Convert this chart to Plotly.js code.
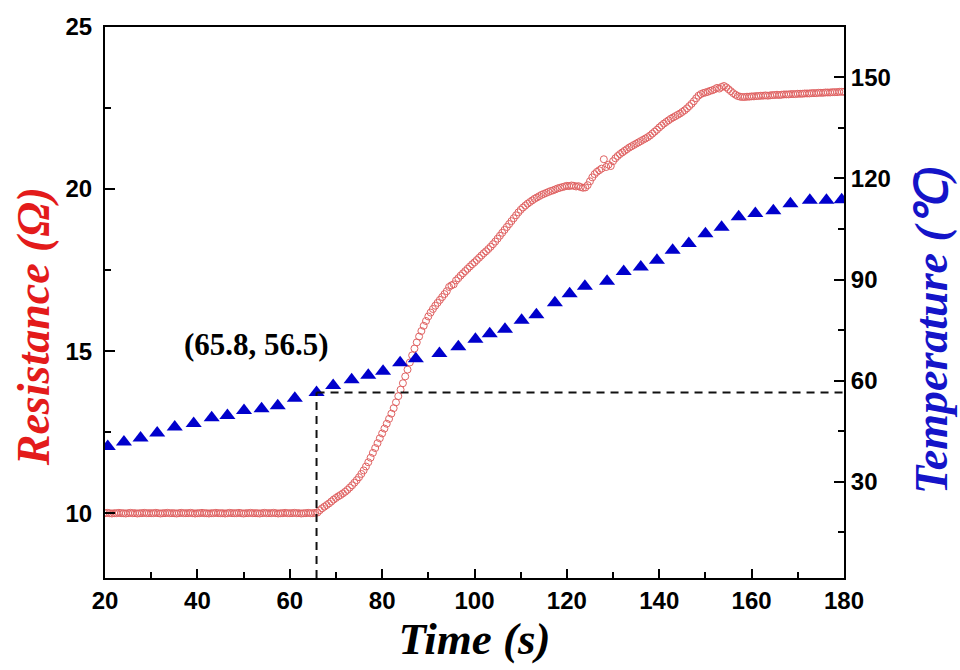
<!DOCTYPE html>
<html>
<head>
<meta charset="utf-8">
<script src="https://cdn.plot.ly/plotly-3.0.1.min.js"></script>
<style>html,body{margin:0;padding:0;background:#fff;}#chart{width:960px;height:670px;}</style>
</head>
<body>
<div id="chart"></div>
<script>
// ---- Data ----
// Resistance (Ohm), sampled every 0.5 s from t = 20 s to t = 180 s
const resStartTime = 20;
const resSampleStep = 0.5;
const resistance = [
  10.00,10.01,10.00,9.99,10.00,10.00,10.01,10.00,10.00,9.99,10.00,10.01,10.00,10.00,9.99,10.00,10.00,10.01,10.00,10.00,
  10.00,10.00,10.01,10.00,9.99,10.00,10.00,10.01,10.00,10.00,10.00,9.99,10.00,10.01,10.00,10.00,10.00,10.01,10.00,9.99,
  10.00,10.00,10.01,10.00,10.00,9.99,10.00,10.00,10.01,10.00,10.00,10.00,9.99,10.00,10.01,10.00,10.00,10.00,10.01,10.00,
  9.99,10.00,10.00,10.01,10.00,10.00,10.00,9.99,10.00,10.01,10.00,10.00,10.00,10.01,10.00,9.99,10.00,10.00,10.01,10.00,
  10.00,10.00,10.01,10.00,10.00,9.99,10.00,10.00,10.01,10.00,10.00,10.01,10.02,10.09,10.15,10.20,10.25,10.30,10.36,10.42,
  10.47,10.52,10.56,10.61,10.66,10.72,10.79,10.86,10.94,11.02,11.11,11.21,11.32,11.44,11.57,11.71,11.86,12.01,12.16,12.31,
  12.46,12.61,12.76,12.91,13.07,13.24,13.42,13.61,13.81,14.01,14.22,14.43,14.65,14.87,15.08,15.27,15.45,15.62,15.78,15.93,
  16.07,16.19,16.30,16.40,16.49,16.58,16.67,16.76,16.85,16.98,17.03,17.06,17.18,17.25,17.33,17.40,17.47,17.54,17.61,17.68,
  17.74,17.81,17.88,17.95,18.02,18.08,18.15,18.22,18.30,18.38,18.47,18.56,18.65,18.74,18.83,18.92,19.01,19.10,19.19,19.28,
  19.36,19.43,19.49,19.55,19.60,19.65,19.70,19.74,19.78,19.82,19.85,19.88,19.91,19.94,19.96,19.99,20.02,20.04,20.06,20.08,
  20.10,20.09,20.11,20.10,20.08,20.09,20.06,20.04,20.05,20.12,20.24,20.36,20.46,20.53,20.58,20.63,20.92,20.68,20.75,20.71,
  20.86,20.95,21.02,21.08,21.13,21.18,21.23,21.28,21.32,21.36,21.40,21.44,21.48,21.52,21.56,21.60,21.65,21.71,21.77,21.83,
  21.90,21.96,22.02,22.07,22.12,22.17,22.21,22.25,22.29,22.33,22.38,22.43,22.49,22.56,22.63,22.71,22.80,22.88,22.93,22.96,
  22.98,23.00,23.03,23.05,23.08,23.12,23.10,23.15,23.18,23.14,23.08,23.02,22.96,22.91,22.87,22.85,22.84,22.84,22.85,22.85,
  22.86,22.86,22.87,22.87,22.88,22.88,22.89,22.88,22.89,22.90,22.90,22.91,22.90,22.91,22.92,22.92,22.92,22.93,22.93,22.93,
  22.94,22.94,22.94,22.95,22.95,22.95,22.96,22.96,22.96,22.97,22.97,22.97,22.98,22.98,22.98,22.99,22.99,22.99,23.00,23.00,
  23.00
];

// Temperature (deg C) readings
const tempTime = [20.6,24.1,27.7,31.3,35.1,39.2,43.1,46.5,50.1,53.9,57.4,61.1,65.8,69.4,73.4,77.0,80.2,83.9,87.3,92.4,
  96.5,100.2,103.3,106.6,110.2,113.4,117.4,120.6,123.9,128.7,132.3,136.0,139.5,142.9,146.4,150.0,153.5,157.2,160.8,164.7,
  168.4,172.6,176.2,179.5];
const temperature = [40.5,41.8,43.0,44.5,46.3,47.3,49.0,49.7,51.2,51.7,52.6,54.8,56.5,58.6,60.3,61.6,62.8,65.3,66.5,68.1,
  70.1,72.3,73.9,75.3,77.9,79.6,83.1,85.8,88.0,89.5,92.4,93.7,95.7,98.7,100.7,103.6,105.5,108.6,109.6,110.4,
  112.5,113.5,113.5,113.7];

// Marked onset point
const onsetTime = 65.8;
const onsetTemp = 56.5;

// Axis tick values and titles
const xTicks = [20,40,60,80,100,120,140,160,180];
const yLeftTicks = [10,15,20,25];
const yRightTicks = [30,60,90,120,150];
const xTitle = 'Time (s)';
const yLeftTitle = 'Resistance (Ω)';
const yRightTitle = 'Temperature (℃)';

// ---- Build ----
const resTime = resistance.map((_, i) => resStartTime + resSampleStep * i);

const tickFont = {family: 'Liberation Sans, Arial, sans-serif', size: 24, color: '#000', weight: 'bold'};
const serif = 'Liberation Serif, Times New Roman, serif';

const traces = [
  {
    x: resTime, y: resistance, type: 'scatter', mode: 'markers', yaxis: 'y',
    marker: {symbol: 'circle-open', size: 7, color: '#E06262', line: {width: 1, color: '#E06262'}},
    hoverinfo: 'x+y'
  },
  {
    x: tempTime, y: temperature, type: 'scatter', mode: 'markers', yaxis: 'y2',
    marker: {symbol: 'triangle-up', size: 14, color: '#0000CC', line: {width: 0}},
    hoverinfo: 'x+y'
  }
];

const layout = {
  width: 960, height: 670,
  margin: {l: 105, r: 116, t: 27, b: 92},
  paper_bgcolor: '#fff', plot_bgcolor: '#fff',
  showlegend: false,
  xaxis: {
    range: [20, 180], tickvals: xTicks, ticktext: xTicks.map(String),
    ticks: 'inside', ticklen: 9, tickwidth: 2, tickcolor: '#000',
    minor: {ticks: 'inside', ticklen: 6, tickwidth: 2, tickcolor: '#000', dtick: 10, tick0: 0, showgrid: false},
    showline: true, linewidth: 2, linecolor: '#000', mirror: true,
    showgrid: false, zeroline: false, tickfont: tickFont,
    title: {text: xTitle, font: {family: serif, size: 45, weight: 'bold', style: 'italic', color: '#000'}, standoff: 8}
  },
  yaxis: {
    range: [8, 25], tickvals: yLeftTicks, ticktext: yLeftTicks.map(String),
    ticks: 'inside', ticklen: 10, tickwidth: 2, tickcolor: '#000',
    minor: {ticks: 'inside', ticklen: 6, tickwidth: 2, tickcolor: '#000', dtick: 2.5, tick0: 0, showgrid: false},
    showline: true, linewidth: 2, linecolor: '#000',
    showgrid: false, zeroline: false, tickfont: tickFont, ticklabelstandoff: 6
  },
  yaxis2: {
    range: [1.5, 164.9], overlaying: 'y', side: 'right',
    tickvals: yRightTicks, ticktext: yRightTicks.map(String),
    ticks: 'inside', ticklen: 10, tickwidth: 2, tickcolor: '#000',
    minor: {ticks: 'inside', ticklen: 6, tickwidth: 2, tickcolor: '#000', dtick: 15, tick0: 0, showgrid: false},
    showline: true, linewidth: 2, linecolor: '#000',
    showgrid: false, zeroline: false, tickfont: tickFont
  },
  shapes: [
    {type: 'line', xref: 'x', yref: 'y2', x0: onsetTime, x1: onsetTime, y0: 1.5, y1: onsetTemp,
     line: {color: '#111', width: 2, dash: '8px,6px'}},
    {type: 'line', xref: 'x', yref: 'y2', x0: onsetTime, x1: 180, y0: onsetTemp, y1: onsetTemp,
     line: {color: '#111', width: 2, dash: '8px,6px'}}
  ],
  annotations: [
    {xref: 'x', yref: 'y', x: 52.7, y: 15.2, showarrow: false,
     text: '(' + onsetTime + ', ' + onsetTemp + ')',
     font: {family: serif, size: 31, color: '#000', weight: 'bold'}},
    {xref: 'paper', yref: 'paper', x: 0, y: 0.455, xanchor: 'center', yanchor: 'middle', xshift: -72,
     textangle: -90, showarrow: false, text: yLeftTitle,
     font: {family: serif, size: 46, weight: 'bold', style: 'italic', color: '#E31B1B'}},
    {xref: 'paper', yref: 'paper', x: 1, y: 0.45, xanchor: 'center', yanchor: 'middle', xshift: 87,
     textangle: -90, showarrow: false, text: yRightTitle,
     font: {family: serif, size: 46, weight: 'bold', style: 'italic', color: '#1414C8'}}
  ]
};

Plotly.newPlot('chart', traces, layout, {displayModeBar: false, staticPlot: true});
</script>
</body>
</html>
